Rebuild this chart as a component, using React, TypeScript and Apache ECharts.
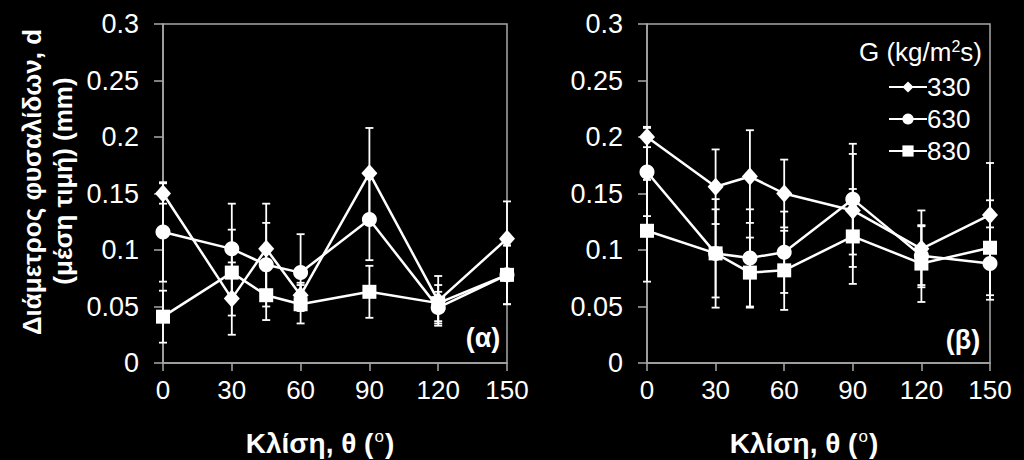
import React, { useEffect, useRef } from "react";
import * as echarts from "echarts";

const angles = [0, 30, 45, 60, 90, 120, 150];
const seriesNames = ["330", "630", "830"];

const alpha330 = [0.150, 0.057, 0.101, 0.060, 0.168, 0.055, 0.110];
const alpha630 = [0.116, 0.101, 0.087, 0.080, 0.127, 0.049, 0.078];
const alpha830 = [0.041, 0.080, 0.060, 0.052, 0.063, 0.053, 0.078];
const alpha330Err = [0.009, 0.032, 0.040, 0.011, 0.040, 0.022, 0.033];
const alpha630Err = [0.044, 0.040, 0.037, 0.034, 0.036, 0.014, 0.026];
const alpha830Err = [0.023, 0.038, 0.022, 0.017, 0.023, 0.016, 0.026];

const beta330 = [0.200, 0.156, 0.165, 0.150, 0.135, 0.101, 0.131];
const beta630 = [0.169, 0.097, 0.093, 0.098, 0.145, 0.095, 0.088];
const beta830 = [0.117, 0.097, 0.080, 0.082, 0.112, 0.088, 0.102];
const beta330Err = [0.009, 0.033, 0.041, 0.030, 0.050, 0.034, 0.046];
const beta630Err = [0.039, 0.048, 0.043, 0.036, 0.049, 0.026, 0.032];
const beta830Err = [0.045, 0.039, 0.031, 0.035, 0.042, 0.034, 0.042];

const yTicks = { min: 0, max: 0.3, interval: 0.05 };
const xTicks = { min: 0, max: 150, interval: 30 };

const FONT = "'Liberation Sans', Arial, sans-serif";
const WHITE = "#ffffff";
const AXIS = "#a8a8a8";
const symbols = ["diamond", "circle", "rect"];
const symbolSizes: any[] = [[16, 18], 15, 14];

function errSeries(name: string, idx: number, vals: number[], errs: number[]) {
  return {
    type: "custom",
    name: name + "-err",
    xAxisIndex: idx,
    yAxisIndex: idx,
    silent: true,
    z: 1,
    data: angles.map((a, i) => [a, vals[i] - errs[i], vals[i] + errs[i]]),
    renderItem: (params: any, api: any) => {
      const x = api.value(0);
      const lo = api.coord([x, api.value(1)]);
      const hi = api.coord([x, api.value(2)]);
      const w = 4;
      const st = { stroke: WHITE, lineWidth: 1.8 };
      return {
        type: "group",
        children: [
          { type: "line", shape: { x1: lo[0], y1: lo[1], x2: hi[0], y2: hi[1] }, style: st },
          { type: "line", shape: { x1: lo[0] - w, y1: lo[1], x2: lo[0] + w, y2: lo[1] }, style: st },
          { type: "line", shape: { x1: hi[0] - w, y1: hi[1], x2: hi[0] + w, y2: hi[1] }, style: st },
        ],
      };
    },
  };
}

function lineSeries(name: string, idx: number, k: number, vals: number[]) {
  return {
    type: "line",
    name,
    xAxisIndex: idx,
    yAxisIndex: idx,
    z: 3,
    data: angles.map((a, i) => [a, vals[i]]),
    symbol: symbols[k],
    symbolSize: symbolSizes[k],
    showAllSymbol: true,
    lineStyle: { color: WHITE, width: 2.5 },
    itemStyle: { color: WHITE, borderWidth: 0 },
  };
}

function xAxis(idx: number) {
  return {
    type: "value",
    gridIndex: idx,
    min: xTicks.min,
    max: xTicks.max,
    interval: xTicks.interval,
    axisLine: { show: true, onZero: false, lineStyle: { color: AXIS, width: 1.5 } },
    axisTick: { show: true, length: 8, lineStyle: { color: AXIS, width: 1.5 } },
    splitLine: { show: false },
    axisLabel: { color: WHITE, fontSize: 26, fontFamily: FONT, margin: 14 },
  };
}

function yAxis(idx: number) {
  return {
    type: "value",
    gridIndex: idx,
    min: yTicks.min,
    max: yTicks.max,
    interval: yTicks.interval,
    axisLine: { show: true, lineStyle: { color: AXIS, width: 1.5 } },
    axisTick: { show: true, length: 9, lineStyle: { color: AXIS, width: 1.5 } },
    splitLine: { show: false },
    axisLabel: { color: WHITE, fontSize: 27, fontFamily: FONT, margin: 24 },
  };
}

function xTitle(cx: number) {
  return {
    type: "text",
    x: cx,
    y: 443,
    style: {
      text: "{a|Κλίση, θ (}{s|o}{a|)}",
      align: "center",
      verticalAlign: "middle",
      fill: WHITE,
      rich: {
        a: { fontSize: 28, fontWeight: "bold", fontFamily: FONT, fill: WHITE },
        s: { fontSize: 17, fontWeight: "normal", fontFamily: FONT, fill: WHITE, padding: [0, 1, 13, 1] },
      },
    },
  };
}

export default function App() {
  const ref = useRef<HTMLDivElement>(null);
  useEffect(() => {
    if (!ref.current) return;
    const chart = echarts.init(ref.current, undefined, { renderer: "svg" });
    const option: any = {
      animation: false,
      backgroundColor: "#000000",
      grid: [
        { left: 163, right: 517, top: 24, bottom: 97, show: true, borderColor: AXIS, borderWidth: 1.5, backgroundColor: "transparent" },
        { left: 647, right: 34, top: 24, bottom: 97, show: true, borderColor: AXIS, borderWidth: 1.5, backgroundColor: "transparent" },
      ],
      xAxis: [xAxis(0), xAxis(1)],
      yAxis: [yAxis(0), yAxis(1)],
      legend: {
        data: seriesNames,
        orient: "vertical",
        left: 883,
        top: 69,
        itemWidth: 38,
        itemHeight: 14,
        itemGap: 6,
        textStyle: { color: WHITE, fontSize: 26, fontFamily: FONT, padding: [0, 0, 0, -5], lineHeight: 26 },
        inactiveColor: "#666",
        selectedMode: false,
      },
      series: [
        errSeries("330", 0, alpha330, alpha330Err),
        errSeries("630", 0, alpha630, alpha630Err),
        errSeries("830", 0, alpha830, alpha830Err),
        lineSeries("330", 0, 0, alpha330),
        lineSeries("630", 0, 1, alpha630),
        lineSeries("830", 0, 2, alpha830),
        errSeries("330", 1, beta330, beta330Err),
        errSeries("630", 1, beta630, beta630Err),
        errSeries("830", 1, beta830, beta830Err),
        lineSeries("330", 1, 0, beta330),
        lineSeries("630", 1, 1, beta630),
        lineSeries("830", 1, 2, beta830),
      ],
      graphic: [
        {
          type: "text",
          x: 32,
          y: 182,
          rotation: Math.PI / 2,
          style: { text: "Διάμετρος φυσαλίδων, d", align: "center", verticalAlign: "middle", fill: WHITE, fontSize: 26, fontWeight: "bold", fontFamily: FONT },
        },
        {
          type: "text",
          x: 63,
          y: 181,
          rotation: Math.PI / 2,
          style: { text: "(μέση τιμή) (mm)", align: "center", verticalAlign: "middle", fill: WHITE, fontSize: 26, fontWeight: "bold", fontFamily: FONT },
        },
        xTitle(320),
        xTitle(804),
        {
          type: "text",
          x: 483,
          y: 338,
          style: { text: "(α)", align: "center", verticalAlign: "middle", fill: WHITE, fontSize: 27, fontWeight: "bold", fontFamily: FONT },
        },
        {
          type: "text",
          x: 963,
          y: 340,
          style: { text: "(β)", align: "center", verticalAlign: "middle", fill: WHITE, fontSize: 27, fontWeight: "bold", fontFamily: FONT },
        },
        {
          type: "text",
          x: 982,
          y: 52,
          style: {
            text: "{a|G (kg/m}{s|2}{a|s)}",
            align: "right",
            verticalAlign: "middle",
            fill: WHITE,
            rich: {
              a: { fontSize: 26, fontFamily: FONT, fill: WHITE },
              s: { fontSize: 16, fontFamily: FONT, fill: WHITE, padding: [0, 0, 12, 0] },
            },
          },
        },
      ],
    };
    chart.setOption(option);
    return () => chart.dispose();
  }, []);
  return (
    <div
      ref={ref}
      style={{ position: "fixed", left: 0, top: 0, width: 1024, height: 460, background: "#000" }}
    />
  );
}
